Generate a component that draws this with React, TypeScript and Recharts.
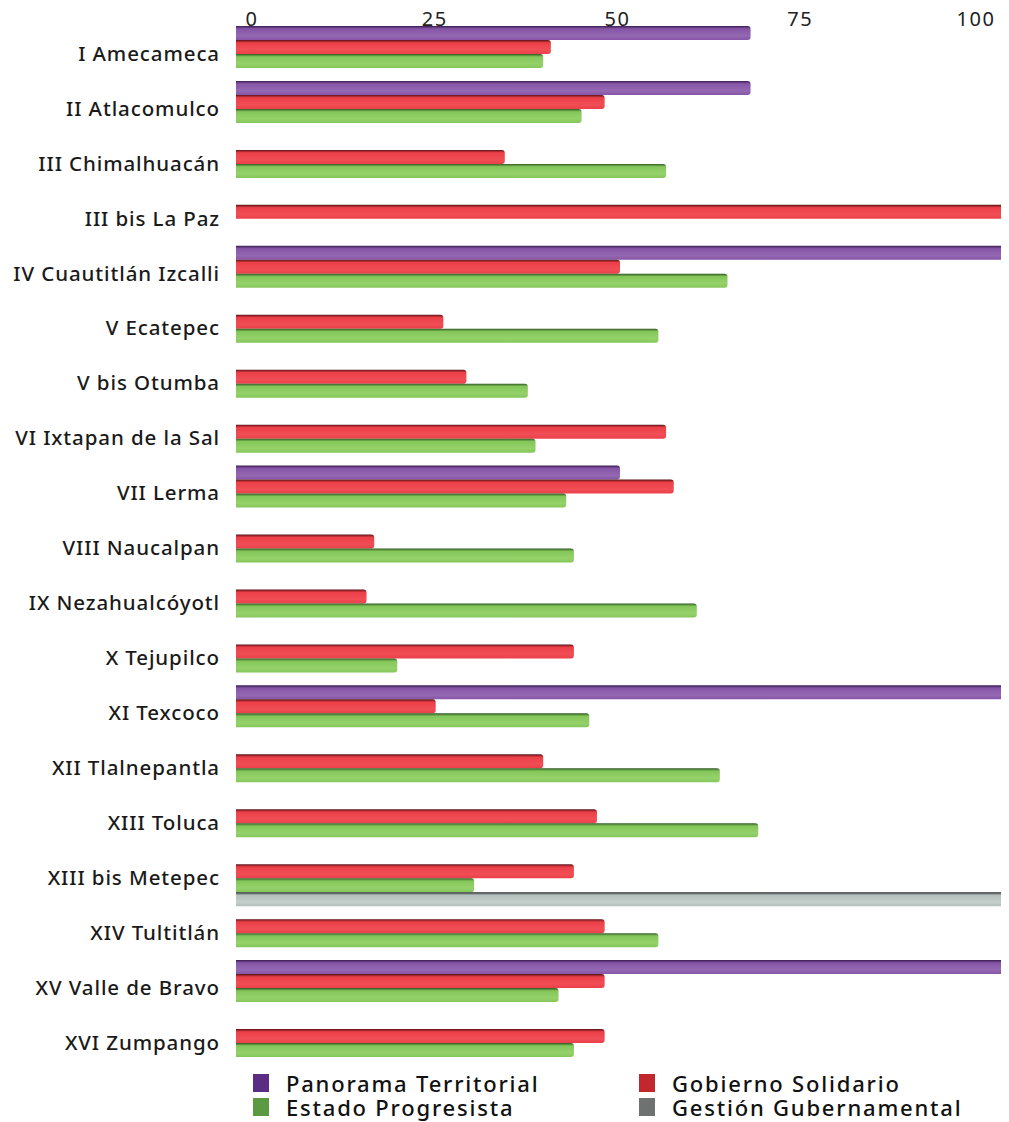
import { Bar, BarChart, Legend, XAxis, YAxis } from 'recharts';

const regions = [
    'I Amecameca',
    'II Atlacomulco',
    'III Chimalhuacán',
    'III bis La Paz',
    'IV Cuautitlán Izcalli',
    'V Ecatepec',
    'V bis Otumba',
    'VI Ixtapan de la Sal',
    'VII Lerma',
    'VIII Naucalpan',
    'IX Nezahualcóyotl',
    'X Tejupilco',
    'XI Texcoco',
    'XII Tlalnepantla',
    'XIII Toluca',
    'XIII bis Metepec',
    'XIV Tultitlán',
    'XV Valle de Bravo',
    'XVI Zumpango'
];

const panorama = [67, 67, null, null, 100, null, null, null, 50, null, null, null, 100, null, null, null, null, 100, null];
const gobierno = [41, 48, 35, 100, 50, 27, 30, 56, 57, 18, 17, 44, 26, 40, 47, 44, 48, 48, 48];
const estado = [40, 45, 56, null, 64, 55, 38, 39, 43, 44, 60, 21, 46, 63, 68, 31, 55, 42, 44];
const gestion = [null, null, null, null, null, null, null, null, null, null, null, null, null, null, null, 100, null, null, null];

const ticks = [0, 25, 50, 75, 100];

const series = [
    { key: 'panorama', name: 'Panorama Territorial', legend: '#5B2C83', dark: '#3a1d52', mid: '#8655a6', light: '#9468b3' },
    { key: 'gobierno', name: 'Gobierno Solidario', legend: '#C1272D', dark: '#5a1216', mid: '#ec3f48', light: '#f04e56' },
    { key: 'estado', name: 'Estado Progresista', legend: '#5B9A42', dark: '#2f5a22', mid: '#84c65a', light: '#95d26a' },
    { key: 'gestion', name: 'Gestión Gubernamental', legend: '#6E7271', dark: '#1e2423', mid: '#b3bfbc', light: '#c4cecb' }
];

const data = regions.map((region, i) => ({
    region,
    panorama : panorama[i],
    gobierno : gobierno[i],
    estado   : estado[i],
    gestion  : gestion[i]
}));

const FONT = '"Noto Sans", "Open Sans", sans-serif';

function TopTick(props: any) {
    const { x, y, payload } = props;
    // the printed scale sits slightly inside the bar range (perspective)
    const shift = 16 - 37 * (payload.value / 100);
    return (
        <text x={x + shift} y={y} textAnchor="middle" fontSize={20} fill="#222" fontFamily={FONT} letterSpacing={1.5}>
            {payload.value}
        </text>
    );
}

function LegendBox() {
    const cell = (s: typeof series[number]) => (
        <div key={s.key} style={{ display: 'flex', alignItems: 'center', height: 24 }}>
            <span style={{ width: 16, height: 18, background: s.legend, display: 'inline-block', marginRight: 17 }} />
            <span style={{ fontSize: 22, color: '#111', fontFamily: FONT, fontWeight: 500, letterSpacing: 1.8, lineHeight: '24px', whiteSpace: 'nowrap' }}>
                {s.name}
            </span>
        </div>
    );
    return (
        <div style={{ display: 'flex', paddingLeft: 245, paddingTop: 1 }}>
            <div style={{ width: 386 }}>
                {cell(series[0])}
                {cell(series[2])}
            </div>
            <div>
                {cell(series[1])}
                {cell(series[3])}
            </div>
        </div>
    );
}

export default function App() {
    return (
        <>
            <style>{'svg.recharts-surface { overflow: visible; }'}</style>
            <BarChart
                width={1001}
                height={1114}
                data={data}
                layout="vertical"
                margin={{ top: 0, right: 5, left: 0, bottom: 0 }}
                barCategoryGap={0}
                barGap={0}
            >
                <defs>
                    {series.map((s) => (
                        <linearGradient key={s.key} id={`grad-${s.key}`} x1="0" y1="0" x2="0" y2="1">
                            <stop offset="0" stopColor={s.dark} />
                            <stop offset="0.2" stopColor={s.mid} />
                            <stop offset="0.7" stopColor={s.light} />
                            <stop offset="1" stopColor={s.mid} />
                        </linearGradient>
                    ))}
                </defs>
                <XAxis
                    type="number"
                    orientation="top"
                    domain={[0, 100]}
                    ticks={ticks}
                    height={18}
                    axisLine={false}
                    tickLine={false}
                    tick={<TopTick />}
                    tickSize={0}
                    tickMargin={0}
                />
                <YAxis
                    type="category"
                    dataKey="region"
                    width={228}
                    axisLine={false}
                    tickLine={false}
                    tickSize={0}
                    tickMargin={16}
                    tick={{ fontSize: 20.5, fill: '#1a1a1a', fontFamily: FONT, fontWeight: 500, letterSpacing: 0.9 }}
                    interval={0}
                />
                <Legend
                    verticalAlign="bottom"
                    height={52}
                    content={() => <LegendBox />}
                />
                {series.map((s) => (
                    <Bar
                        key={s.key}
                        dataKey={s.key}
                        name={s.name}
                        fill={`url(#grad-${s.key})`}
                        radius={[0, 3, 3, 0]}
                        isAnimationActive={false}
                    />
                ))}
            </BarChart>
        </>
    );
}
